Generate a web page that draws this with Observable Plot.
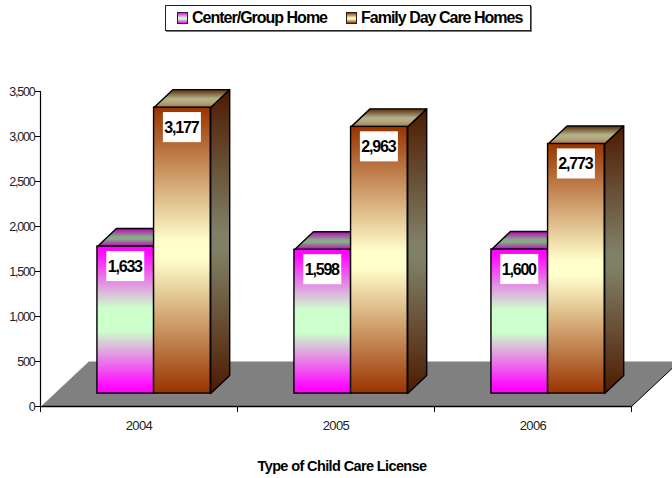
<!DOCTYPE html>
<html>
<head>
<meta charset="utf-8">
<script src="https://cdn.jsdelivr.net/npm/d3@7"></script>
<script src="https://cdn.jsdelivr.net/npm/@observablehq/plot@0.6"></script>
<style>
html,body{margin:0;padding:0;background:#fff;overflow:hidden}
body{width:672px;height:478px;font-family:"Liberation Sans",Arial,sans-serif}
#legendWrap{height:40px;position:relative}
#legend{position:absolute;left:165px;top:5px;width:366px;height:26px;box-sizing:border-box;border:1px solid #222;box-shadow:1px 1px 0 #777;font-weight:bold;font-size:16px;letter-spacing:-1px;color:#000;white-space:nowrap}
#legend .sw{display:inline-block;width:9px;height:10px;border:1px solid #222;margin-right:4px}
#legend .i1{position:absolute;left:11px;top:3px;display:flex;align-items:center}
#legend .i2{position:absolute;left:180px;top:3px;display:flex;align-items:center}
svg{display:block}
g[aria-label="y-axis tick label"] text{letter-spacing:-1.2px}
g[aria-label="x-axis tick label"] text{letter-spacing:-0.6px}
g[aria-label="text"][font-size="16"] text{letter-spacing:-1.2px}
g[aria-label="text"][font-size="14.5"] text{letter-spacing:-0.62px}
</style>
</head>
<body>
<div id="legendWrap"><div id="legend">
<span class="i1"><span class="sw" style="background:linear-gradient(#ff00ff,#ccffcc 50%,#ccffcc 60%,#ff00ff)"></span><span id="l1"></span></span>
<span class="i2"><span class="sw" style="background:linear-gradient(#993300,#ffffcc 50%,#ffffcc 60%,#993300)"></span><span id="l2"></span></span>
</div></div>
<div id="chart"></div>
<script>
const years = ["2004", "2005", "2006"];
const seriesNames = ["Center/Group Home", "Family Day Care Homes"];
const centerGroup = [1633, 1598, 1600];
const familyDay = [3177, 2963, 2773];
const yTicks = [0, 500, 1000, 1500, 2000, 2500, 3000, 3500];
const xTitle = "Type of Child Care License";

document.getElementById("l1").textContent = seriesNames[0];
document.getElementById("l2").textContent = seriesNames[1];

// Oblique projection, in data units (x: categories, y: value)
const barStart = 0.289, barW = 0.2875, depthX = 0.0964, depthY = 200, baseY = 144;
const floorDX = 0.2437, floorDY = 500, floorRight = 3.208, floorRightY = 427;
const labelDrop = 222, labelHalfH = 167, labelHalfW = 0.0964;

const bars = [];
years.forEach((year, i) => {
  [centerGroup, familyDay].forEach((vals, s) => {
    const x1 = i + barStart + s * barW;
    bars.push({year, s, x1, x2: x1 + barW, y1: baseY, y2: baseY + vals[i], value: vals[i]});
  });
});
const face = (kind, b) => kind === "top"
  ? [[b.x1, b.y2], [b.x2, b.y2], [b.x2 + depthX, b.y2 + depthY], [b.x1 + depthX, b.y2 + depthY]]
  : [[b.x2, b.y1], [b.x2, b.y2], [b.x2 + depthX, b.y2 + depthY], [b.x2 + depthX, b.y1 + depthY]];
const polys = (kind, s) => bars.filter(b => b.s === s).flatMap(b =>
  face(kind, b).concat([face(kind, b)[0]]).map(([x, y]) => ({x, y, id: b.year})));

const stops = (id, list) => `<linearGradient id="${id}" x1="0" y1="0" x2="0" y2="1">` +
  list.map(([o, c]) => `<stop offset="${o}" stop-color="${c}"/>`).join("") + `</linearGradient>`;
const defs = () => {
  const g = document.createElementNS("http://www.w3.org/2000/svg", "defs");
  g.innerHTML =
    stops("front0", [[0, "#ff00ff"], [0.06, "#ff11ff"], [0.42, "#ccffcc"], [0.58, "#ccffcc"], [0.94, "#ff11ff"], [1, "#ff00ff"]]) +
    stops("front1", [[0, "#993300"], [0.47, "#ffffcc"], [0.53, "#ffffcc"], [1, "#993300"]]) +
    stops("side1", [[0, "#4d1a00"], [0.47, "#808066"], [0.53, "#808066"], [1, "#4d1a00"]]) +
    stops("top0", [[0, "#c000c0"], [0.45, "#88aa88"], [0.6, "#88aa88"], [1, "#c000c0"]]) +
    stops("top1", [[0, "#5a2a08"], [0.5, "#b3b38c"], [0.7, "#b3a880"], [1, "#a87840"]]);
  return g;
};

const floor = [[0, 0], [3, 0], [floorRight, floorRightY], [floorRight, floorDY], [floorDX, floorDY], [0, 0]]
  .map(([x, y]) => ({x, y}));
const polyMark = (data, fill, extra = {}) => Plot.line(data, {x: "x", y: "y", z: "id", curve: "linear",
  fill, stroke: "#000", strokeWidth: 1.4, strokeLinejoin: "round", ...extra});
const barMark = (s) => Plot.rect(bars.filter(b => b.s === s), {x1: "x1", x2: "x2", y1: "y1", y2: "y2",
  inset: 0, fill: `url(#front${s})`, stroke: "#000", strokeWidth: 1.4});

const chart = Plot.plot({
  width: 672, height: 438,
  marginLeft: 40, marginRight: 41, marginTop: 51, marginBottom: 72,
  style: {fontFamily: '"Liberation Sans",Arial,sans-serif', background: "#fff", overflow: "hidden"},
  x: {domain: [0, 3], axis: null},
  y: {domain: [0, 3500], axis: null},
  marks: [
    defs,
    Plot.line(floor, {x: "x", y: "y", fill: "#808080", stroke: "none", curve: "linear"}),
    Plot.line(floor.slice(0, 2), {x: "x", y: "y", stroke: "#000", strokeWidth: 1.4}),
    Plot.line([floor[1], floor[2]], {x: "x", y: "y", stroke: "#000", strokeWidth: 1}),
    Plot.line([floor[5], floor[4]], {x: "x", y: "y", stroke: "#eee", strokeWidth: 1}),
    Plot.ruleX([0], {y1: 0, y2: 3500, stroke: "#000", strokeWidth: 1.2}),
    Plot.axisY({ticks: yTicks, tickFormat: d3.format(","), tickSize: 5, tickPadding: 1, label: null,
      fontSize: 12.5, stroke: "#000", color: "#222"}),
    Plot.axisX({ticks: [0, 1, 2, 3], tickFormat: () => "", tickSize: 6, label: null, stroke: "#000"}),
    Plot.axisX({ticks: [0.5, 1.5, 2.5], tickFormat: d => years[Math.floor(d)], tickSize: 0, tickPadding: 14, label: null,
      fontSize: 13, color: "#222"}),
    // Center/Group Home
    polyMark(polys("top", 0), "url(#top0)"),
    barMark(0),
    // Family Day Care Homes
    polyMark(polys("side", 1), "url(#side1)"),
    polyMark(polys("top", 1), "url(#top1)"),
    barMark(1),
    // Value labels
    Plot.rect(bars, {x1: d => (d.x1 + d.x2) / 2 - labelHalfW, x2: d => (d.x1 + d.x2) / 2 + labelHalfW,
      y1: d => d.y2 - labelDrop - labelHalfH, y2: d => d.y2 - labelDrop + labelHalfH, fill: "#fff", inset: 0}),
    Plot.text(bars, {x: d => (d.x1 + d.x2) / 2, y: d => d.y2 - labelDrop, dx: -1, text: d => d3.format(",")(d.value),
      fontSize: 16, fontWeight: "bold", fill: "#000"}),
    Plot.text([xTitle], {frameAnchor: "bottom", dx: 6, dy: 64, fontSize: 14.5, fontWeight: "bold", fill: "#000"})
  ]
});
document.getElementById("chart").append(chart);
</script>
</body>
</html>
